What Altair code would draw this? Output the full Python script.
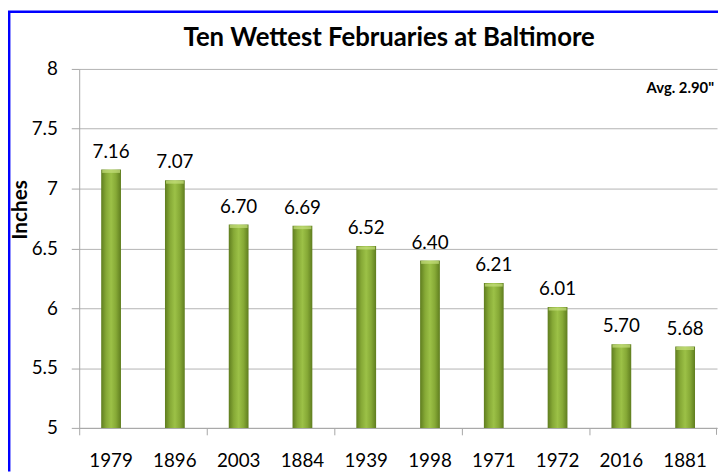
import altair as alt
import pandas as pd

years = ["1979", "1896", "2003", "1884", "1939", "1998", "1971", "1972", "2016", "1881"]
inches = [7.16, 7.07, 6.70, 6.69, 6.52, 6.40, 6.21, 6.01, 5.70, 5.68]
y_ticks = [5, 5.5, 6, 6.5, 7, 7.5, 8]
title_text = "Ten Wettest Februaries at Baltimore"
avg_text = "Avg. 2.90\""
tick_years = ["1979", "2003", "1939", "1971", "2016"]

df = pd.DataFrame({"year": years, "inches": inches})
df["label"] = [f"{v:.2f}" for v in inches]

FONT = "Lato"
W, H = 645, 363

grad = alt.Gradient(
    gradient="linear",
    x1=0, x2=1, y1=0, y2=0,
    stops=[
        alt.GradientStop(color="#5f7d1f", offset=0),
        alt.GradientStop(color="#86a936", offset=0.25),
        alt.GradientStop(color="#9cc147", offset=0.5),
        alt.GradientStop(color="#86a936", offset=0.75),
        alt.GradientStop(color="#5f7d1f", offset=1),
    ],
)

tick_expr = "indexof(" + str(tick_years) + ", datum.value) >= 0 ? 1 : 0"

x = alt.X(
    "year:N",
    sort=years,
    title=None,
    scale=alt.Scale(paddingInner=0, paddingOuter=0),
    axis=alt.Axis(
        labelAngle=0,
        labelFont=FONT,
        labelFontSize=19,
        labelColor="#000000",
        labelPadding=17,
        bandPosition=0,
        tickSize=7,
        tickColor="#a6a6a6",
        tickOpacity=alt.ExprRef(tick_expr),
        domainColor="#a6a6a6",
        grid=False,
    ),
)

y = alt.Y(
    "inches:Q",
    scale=alt.Scale(domain=[5, 8], nice=False, zero=False),
    axis=alt.Axis(
        values=y_ticks,
        format="~g",
        title="Inches",
        titleFont=FONT,
        titleFontSize=21,
        titleFontWeight="bold",
        titleColor="#000000",
        titleX=-59,
        titleY=142,
        titleAngle=-90,
        titleBaseline="middle",
        titleAlign="center",
        labelFont=FONT,
        labelFontSize=19,
        labelColor="#000000",
        labelPadding=14,
        tickSize=8,
        tickColor="#a6a6a6",
        domainColor="#a6a6a6",
        gridColor="#b3b3b3",
    ),
)

base = alt.Chart(df).encode(x=x, y=y)

bars = base.mark_bar(size=20, fill=grad, clip=True)

caps = base.mark_tick(size=18, thickness=3, color="#c6e07e", yOffset=2)

labels = base.mark_text(
    font=FONT, fontSize=19, color="#000000", baseline="bottom", dy=-8
).encode(text="label:N")

avg = alt.Chart(pd.DataFrame({"t": [avg_text]})).mark_text(
    font=FONT, fontSize=15, fontWeight="bold", color="#000000", align="right", baseline="middle"
).encode(x=alt.value(W - 3), y=alt.value(19), text="t:N")

title = alt.Chart(pd.DataFrame({"t": [title_text]})).mark_text(
    font=FONT, fontSize=26, fontWeight="bold", color="#000000", align="center", baseline="middle"
).encode(x=alt.value(W / 2 - 9), y=alt.value(-31), text="t:N")

end_tick = alt.Chart(pd.DataFrame({"t": [0]})).mark_rule(color="#a6a6a6").encode(
    x=alt.value(W - 0.5), y=alt.value(H), y2=alt.value(H + 7)
)

border_left = alt.Chart(pd.DataFrame({"t": [0]})).mark_rule(color="#0000ff", strokeWidth=2.5).encode(
    x=alt.value(-70.8), y=alt.value(-58), y2=alt.value(H + 44)
)
border_top = alt.Chart(pd.DataFrame({"t": [0]})).mark_rule(color="#0000ff", strokeWidth=2.5).encode(
    x=alt.value(-72), x2=alt.value(W + 1), y=alt.value(-57.8)
)

chart = alt.layer(bars, caps, labels, avg, title, end_tick, border_left, border_top).properties(
    width=W,
    height=H,
    autosize=alt.AutoSizeParams(type="none"),
    padding={"left": 72, "top": 59, "right": 1, "bottom": 44},
    background="#ffffff",
).configure_view(stroke=None)

chart.save("out.html", embed_options={"renderer": "svg", "actions": False})
